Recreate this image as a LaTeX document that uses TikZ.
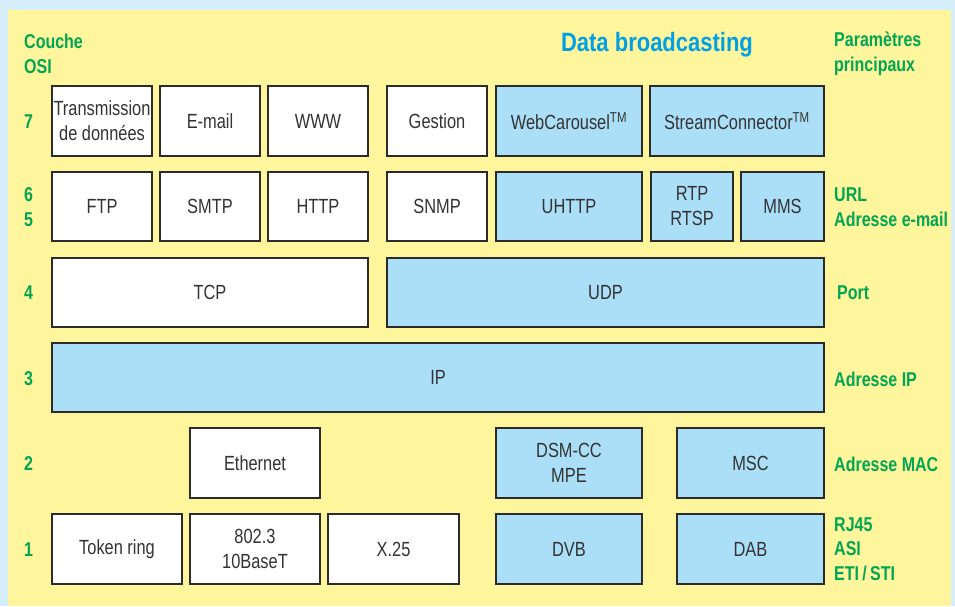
\documentclass[tikz,border=0pt]{standalone}
\usepackage{fontspec}
\setmainfont{Liberation Sans}[FakeStretch=0.8]
\newfontfamily\condfont{Liberation Sans}[FakeStretch=0.8]
\newfontfamily\titlefont{Liberation Sans}[FakeStretch=0.83]
\definecolor{outerblue}{HTML}{D6EEFB}
\definecolor{bgyellow}{HTML}{FFF59D}
\definecolor{cellblue}{HTML}{ABDFF8}
\definecolor{boxline}{HTML}{2B2B2B}
\definecolor{textgray}{HTML}{333333}
\definecolor{labgreen}{HTML}{00A651}
\definecolor{titleblue}{HTML}{00A0E3}
\tikzset{
  cell/.style={draw=boxline, line width=1.8pt, inner sep=0pt, text=textgray, align=center,
    font=\condfont\fontsize{20.5}{25}\selectfont},
  wcell/.style={cell, fill=white},
  bcell/.style={cell, fill=cellblue},
  lab/.style={anchor=west, inner sep=0pt, text=labgreen, align=left,
    font=\condfont\bfseries\fontsize{20}{25}\selectfont},
  title/.style={inner sep=0pt, text=titleblue, font=\titlefont\bfseries\fontsize{26.5}{30}\selectfont}
}
\newcommand\cellbox[7]{%
  \node[#2, minimum width={(#5-#3)*1pt}, minimum height={(#6-#4)*1pt}]
    (#1) at ({(#3+#5)/2},{(#4+#6)/2}) {#7};}
\begin{document}
\begin{tikzpicture}[x=1pt,y=-1pt]
\fill[outerblue] (0,0) rectangle (955,606);
\fill[bgyellow] (8,10) rectangle (951,606);
\useasboundingbox (0,0) rectangle (955,606);
% row 7
\cellbox{trans}{wcell}{52}{86}{152}{156}{Transmission\\de données}
\cellbox{email}{wcell}{160}{86}{260}{156}{E-mail}
\cellbox{www}{wcell}{268}{86}{368}{156}{WWW}
\cellbox{gest}{wcell}{387}{86}{487}{156}{Gestion}
\cellbox{webc}{bcell}{496}{86}{642}{156}{WebCarousel\textsuperscript{TM}}
\cellbox{strc}{bcell}{650}{86}{824}{156}{StreamConnector\textsuperscript{TM}}
% row 6/5
\cellbox{ftp}{wcell}{52}{172}{152}{241}{FTP}
\cellbox{smtp}{wcell}{160}{172}{260}{241}{SMTP}
\cellbox{http}{wcell}{268}{172}{368}{241}{HTTP}
\cellbox{snmp}{wcell}{387}{172}{487}{241}{SNMP}
\cellbox{uhttp}{bcell}{496}{172}{642}{241}{UHTTP}
\cellbox{rtp}{bcell}{651}{172}{733}{241}{RTP\\RTSP}
\cellbox{mms}{bcell}{741}{172}{824}{241}{MMS}
% row 4
\cellbox{tcp}{wcell}{52}{258}{368}{327}{TCP}
\cellbox{udp}{bcell}{387}{258}{824}{327}{UDP}
% row 3
\cellbox{ip}{bcell}{52}{343}{824}{412}{IP}
% row 2
\cellbox{eth}{wcell}{190}{428}{320}{498}{Ethernet}
\cellbox{dsm}{bcell}{496}{428}{642}{498}{DSM-CC\\MPE}
\cellbox{msc}{bcell}{677}{428}{824}{498}{MSC}
% row 1
\cellbox{tok}{wcell}{52}{514}{182}{584}{Token ring}
\cellbox{ieee}{wcell}{190}{514}{320}{584}{802.3\\10BaseT}
\cellbox{x25}{wcell}{328}{514}{459}{584}{X.25}
\cellbox{dvb}{bcell}{496}{514}{642}{584}{DVB}
\cellbox{dab}{bcell}{677}{514}{824}{584}{DAB}
% left labels
\node[lab] (couche) at (24,54) {Couche\\OSI};
\node[lab] (l7) at (24,122) {7};
\node[lab] (l65) at (24,207) {6\\5};
\node[lab] (l4) at (24,293) {4};
\node[lab] (l3) at (24,379) {3};
\node[lab] (l2) at (24,464) {2};
\node[lab] (l1) at (24,550) {1};
% title
\node[title] (titre) at (657,45) {Data broadcasting};
% right labels
\node[lab] (param) at (834,54) {Paramètres\\principaux};
\node[lab] (url) at (834,207) {URL\\Adresse e-mail};
\node[lab] (port) at (837,293) {Port};
\node[lab] (adip) at (834,379) {Adresse IP};
\node[lab] (admac) at (834,464) {Adresse MAC};
\node[lab, font=\condfont\bfseries\fontsize{20}{24.5}\selectfont] (phys) at (834,549) {RJ45\\ASI\\ETI\,/\,STI};
\end{tikzpicture}
\end{document}
